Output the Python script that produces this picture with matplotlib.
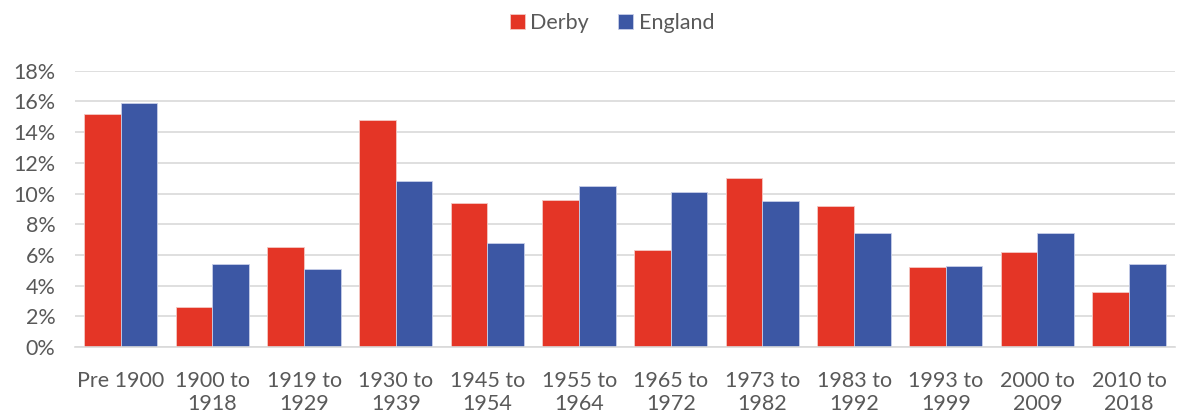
import matplotlib
matplotlib.use("Agg")
import matplotlib.pyplot as plt
import numpy as np
from matplotlib.ticker import FuncFormatter, MultipleLocator

plt.rcParams['font.family'] = ['Lato', 'DejaVu Sans']

periods = ["Pre 1900", "1900 to\n1918", "1919 to\n1929", "1930 to\n1939",
           "1945 to\n1954", "1955 to\n1964", "1965 to\n1972", "1973 to\n1982",
           "1983 to\n1992", "1993 to\n1999", "2000 to\n2009", "2010 to\n2018"]
derby = [15.2, 2.6, 6.5, 14.8, 9.4, 9.6, 6.3, 11.0, 9.2, 5.2, 6.2, 3.6]
england = [15.9, 5.4, 5.1, 10.8, 6.8, 10.5, 10.1, 9.5, 7.4, 5.3, 7.4, 5.4]

red = "#E43526"
blue = "#3C57A4"
grey_text = "#595959"

fig = plt.figure(figsize=(11.79, 4.19), dpi=100)
ax = fig.add_axes([0.0636, 0.172, 0.933, 0.659])

x = np.arange(len(periods))
w = 0.4
ax.bar(x - w / 2, derby, w, color=red, edgecolor="#f4c8c4", linewidth=0.6, label="Derby", zorder=3)
ax.bar(x + w / 2, england, w, color=blue, edgecolor="#c8cfe8", linewidth=0.6, label="England", zorder=3)

ax.set_xlim(-0.5, len(periods) - 0.5)
ax.set_ylim(0, 18)
ax.yaxis.set_major_locator(MultipleLocator(2))
ax.yaxis.set_major_formatter(FuncFormatter(lambda v, p: "{:.0f}%".format(v)))
ax.grid(axis="y", color="#d9d9d9", linewidth=1.2, zorder=0)

for s in ["top", "right", "left"]:
    ax.spines[s].set_visible(False)
ax.spines["bottom"].set_color("#d9d9d9")
ax.spines["bottom"].set_linewidth(1.2)
ax.spines["bottom"].set_zorder(4)

ax.set_xticks(x)
ax.set_xticklabels(periods, linespacing=1.2)
ax.tick_params(axis="both", length=0, labelsize=15.5, colors=grey_text)
ax.tick_params(axis="x", pad=17)
ax.tick_params(axis="y", pad=14)

fig.legend(loc="upper center", bbox_to_anchor=(0.519, 1.015), ncol=2, frameon=False,
           fontsize=15.5, handlelength=0.7, handleheight=0.7, handletextpad=0.25,
           columnspacing=1.35, labelcolor=grey_text)

fig.savefig("out.png", dpi=100)
plt.close()
